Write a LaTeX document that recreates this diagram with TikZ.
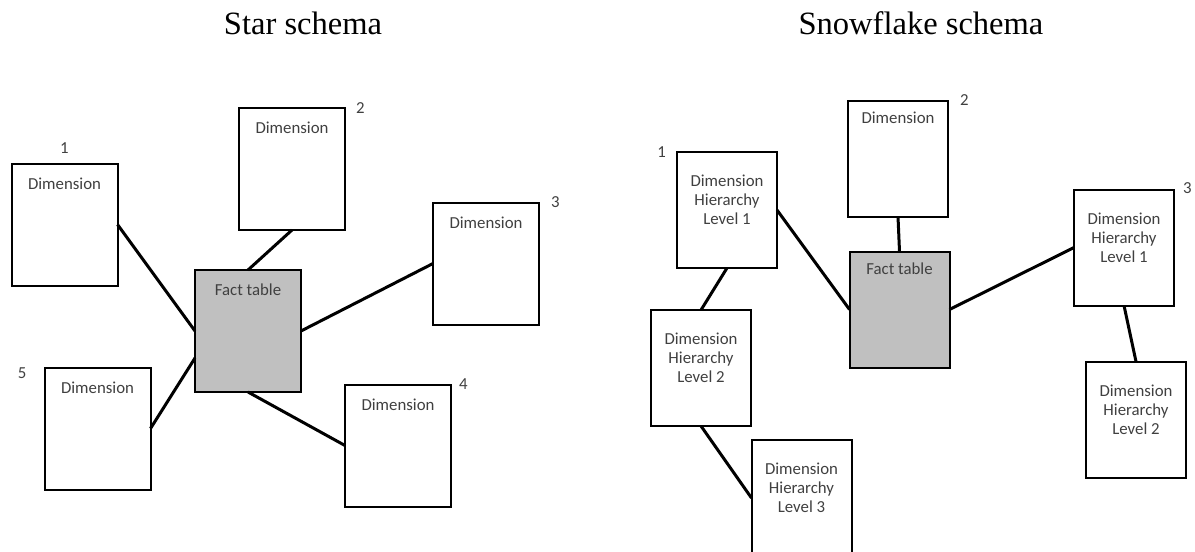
\documentclass[tikz,border=0pt]{standalone}
\usepackage{fontspec}
\setmainfont{Liberation Serif}
\newfontfamily\boxfont{Carlito}
\usetikzlibrary{positioning}
\definecolor{labelgray}{HTML}{404040}
\definecolor{factgray}{HTML}{C0C0C0}
\tikzstyle{tbl} = [draw,line width=1.5pt,rectangle,fill=white,inner sep=0,outer sep=0,minimum width=79.5pt,minimum height=91.5pt]
\tikzstyle{subtbl} = [tbl,minimum width=75pt,minimum height=87pt]
\tikzstyle{factfill} = [fill=factgray]
\tikzstyle{connector} = [-,line width=2.25pt]
\tikzstyle{tabtext} = [inner sep=0,outer sep=0,align=center,text=labelgray,font=\boxfont\fontsize{12.6}{14.4}\selectfont]
\tikzstyle{tabnum} = [tabtext]
\tikzstyle{schematitle} = [inner sep=0,font=\fontsize{24.4}{28}\selectfont]
\def \gap {10.5pt}
\def \subgap {8.6pt}
\def \levgap {17.25pt}

\begin{document}
\begin{tikzpicture}[x=0.75pt,y=-0.75pt]
      \useasboundingbox (0,0) rectangle (1195,551);
      \clip (0,0) rectangle (1195,551);
      % star schema
      \node[schematitle,anchor=base] (startitle) at (303,34) {Star schema};
      \node[tbl,factfill] (fact) at (248,331) {};
      \node[tabtext,below=\gap of fact.north] (facttext) {Fact table};
      \node[tbl] (d1) at (64.5,224.5) {};
      \node[tabtext,below=\gap of d1.north] (d1text) {Dimension};
      \node[tabnum,above=7.5pt of d1.north] (d1num) {1};
      \node[tbl] (d2) at (292,169) {};
      \node[tabtext,below=\gap of d2.north] (d2text) {Dimension};
      \node[tabnum,anchor=base west] (d2num) at ([shift={(11,5)}]d2.north east) {2};
      \node[tbl] (d3) at (486,263.5) {};
      \node[tabtext,below=\gap of d3.north] (d3text) {Dimension};
      \node[tabnum,anchor=base west] (d3num) at ([shift={(12,5)}]d3.north east) {3};
      \node[tbl] (d4) at (398,445.5) {};
      \node[tabtext,below=\gap of d4.north] (d4text) {Dimension};
      \node[tabnum,anchor=base west] (d4num) at ([shift={(8,5)}]d4.north east) {4};
      \node[tbl] (d5) at (97.5,428.5) {};
      \node[tabtext,below=\gap of d5.north] (d5text) {Dimension};
      \node[tabnum,anchor=base east] (d5num) at ([shift={(-18,11)}]d5.north west) {5};
      \draw[connector] (d1.east) -- (fact.west);
      \draw[connector] (d2.south) -- (fact.north);
      \draw[connector] (fact.east) -- (d3.west);
      \draw[connector] (fact.south) -- (d4.west);
      \draw[connector] (d5.east) -- (fact.207);
      % snowflake schema
      \node[schematitle,anchor=base] (snowtitle) at (921,34) {Snowflake schema};
      \node[subtbl,factfill] (sfact) at (899.5,309.5) {};
      \node[tabtext,below=\subgap of sfact.north] (sfacttext) {Fact table};
      \node[subtbl] (sd2) at (898,158.5) {};
      \node[tabtext,below=\subgap of sd2.north] (sd2text) {Dimension};
      \node[tabnum,anchor=base west] (sd2num) at ([shift={(12,5)}]sd2.north east) {2};
      \node[subtbl] (h1) at (727,210) {};
      \node[tabtext,below=\levgap of h1.north] (h1text) {Dimension\\Hierarchy\\Level 1};
      \node[tabnum,anchor=base east] (h1num) at ([shift={(-11,5)}]h1.north west) {1};
      \node[subtbl] (h2) at (701,368) {};
      \node[tabtext,below=\levgap of h2.north] (h2text) {Dimension\\Hierarchy\\Level 2};
      \node[subtbl] (h3) at (801.5,498) {};
      \node[tabtext,below=\levgap of h3.north] (h3text) {Dimension\\Hierarchy\\Level 3};
      \node[subtbl] (r1) at (1124,247.5) {};
      \node[tabtext,below=\levgap of r1.north] (r1text) {Dimension\\Hierarchy\\Level 1};
      \node[tabnum,anchor=base west] (r1num) at ([shift={(9,4)}]r1.north east) {3};
      \node[subtbl] (r2) at (1136,419.5) {};
      \node[tabtext,below=\levgap of r2.north] (r2text) {Dimension\\Hierarchy\\Level 2};
      \draw[connector] (h1.south) -- (h2.north);
      \draw[connector] (h1.east) -- (sfact.west);
      \draw[connector] (sd2.south) -- (sfact.north);
      \draw[connector] (sfact.east) -- (r1.west);
      \draw[connector] (r1.south) -- (r2.north);
      \draw[connector] (h2.south) -- (h3.west);
    \end{tikzpicture}
\end{document}
